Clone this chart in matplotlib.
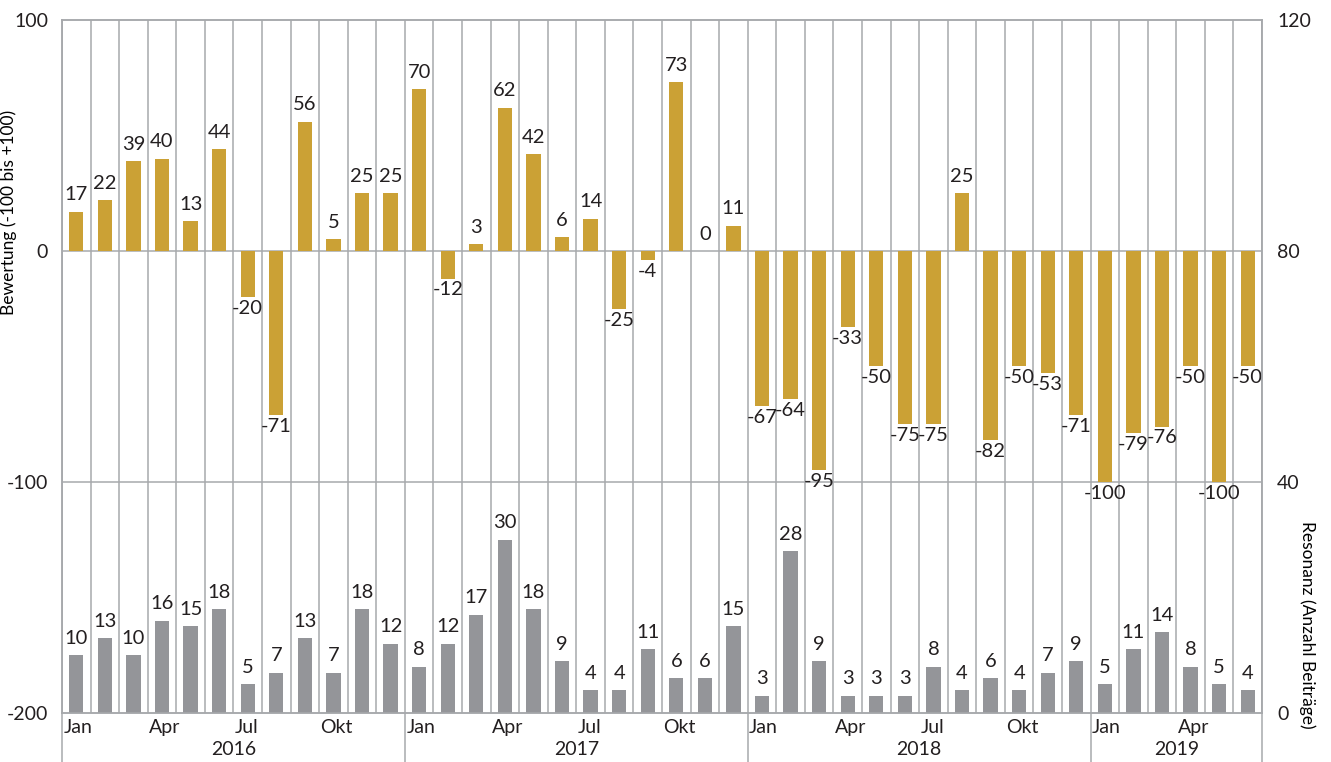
import numpy as np
import matplotlib
matplotlib.use("Agg")
import matplotlib.pyplot as plt
import matplotlib.transforms as mtransforms

# data
YEARS = ["2016", "2017", "2018", "2019"]
MONTHS_PER_YEAR = [12, 12, 12, 6]
MONTH_NAMES = ["Jan", "", "", "Apr", "", "", "Jul", "", "", "Okt", "", ""]

bewertung = [
    17, 22, 39, 40, 13, 44, -20, -71, 56, 5, 25, 25,
    70, -12, 3, 62, 42, 6, 14, -25, -4, 73, 0, 11,
    -67, -64, -95, -33, -50, -75, -75, 25, -82, -50, -53, -71,
    -100, -79, -76, -50, -100, -50,
]
resonanz = [
    10, 13, 10, 16, 15, 18, 5, 7, 13, 7, 18, 12,
    8, 12, 17, 30, 18, 9, 4, 4, 11, 6, 6, 15,
    3, 28, 9, 3, 3, 3, 8, 4, 6, 4, 7, 9,
    5, 11, 14, 8, 5, 4,
]

GOLD = "#CBA135"
GREY = "#949599"
GRID = "#A7A9AC"
TEXT = "#231F20"

plt.rcParams.update({
    "font.family": ["Lato", "DejaVu Sans"],
    "font.size": 13.5,
    "axes.unicode_minus": False,
    "text.color": TEXT,
    "xtick.color": TEXT,
    "ytick.color": TEXT,
})

n = len(bewertung)
x = np.arange(n)

fig = plt.figure(figsize=(13.31, 7.62), dpi=100)
ax = fig.add_axes([62 / 1331, 1 - 713 / 762, 1200 / 1331, 693 / 762])
ax2 = ax.twinx()

ax.set_xlim(-0.5, n - 0.5)
ax.set_ylim(-200, 100)
ax2.set_ylim(0, 120)

# grid
for b in np.arange(n + 1) - 0.5:
    ax.axvline(b, color=GRID, lw=1.1, zorder=0)
for yv in [-100, 0]:
    ax.axhline(yv, color=GRID, lw=1.1, zorder=0)
for a in (ax, ax2):
    for s in a.spines.values():
        s.set_color(GRID)
        s.set_linewidth(1.1)

# bars
ax.bar(x, bewertung, width=0.5, color=GOLD, zorder=2)
ax2.bar(x, resonanz, width=0.5, color=GREY, zorder=2)

for xi, v in zip(x, bewertung):
    if v >= 0:
        ax.annotate(str(v), (xi, v), xytext=(0, 6), textcoords="offset points",
                    ha="center", va="bottom", fontsize=14.5)
    else:
        ax.annotate(str(v), (xi, v), xytext=(0, -2), textcoords="offset points",
                    ha="center", va="top", fontsize=14.5)
for xi, v in zip(x, resonanz):
    ax2.annotate(str(v), (xi, v), xytext=(0, 6), textcoords="offset points",
                 ha="center", va="bottom", fontsize=14.5)

# y axes
ax.set_yticks([-200, -100, 0, 100])
ax.tick_params(axis="y", length=0, pad=10, labelsize=14)
ax2.set_yticks([0, 40, 80, 120])
ax2.tick_params(axis="y", length=0, pad=11, labelsize=14)
ax.set_ylabel("Bewertung (-100 bis +100)", fontsize=12.5)
ax.yaxis.set_label_coords(-0.0375, 0.723)
ax2.set_ylabel("Resonanz (Anzahl Beiträge)", fontsize=12.5, rotation=270, va="center")
ax2.yaxis.set_label_coords(1.0375, 0.127)

# two-level x axis
ax.set_xticks([])
trans = mtransforms.blended_transform_factory(ax.transData, ax.transAxes)
start = 0
for year, cnt in zip(YEARS, MONTHS_PER_YEAR):
    for m in range(cnt):
        if MONTH_NAMES[m]:
            ax.text(start + m - 0.5 + 0.05, -0.008, MONTH_NAMES[m], transform=trans,
                    ha="left", va="top", fontsize=14)
    ax.text(start + cnt / 2 - 0.5, -0.04, year, transform=trans,
            ha="center", va="top", fontsize=14)
    ax.plot([start - 0.5, start - 0.5], [0, -0.075], transform=trans,
            color=GRID, lw=1.1, clip_on=False)
    start += cnt
ax.plot([start - 0.5, start - 0.5], [0, -0.075], transform=trans,
        color=GRID, lw=1.1, clip_on=False)

fig.savefig("out.png", dpi=100)
